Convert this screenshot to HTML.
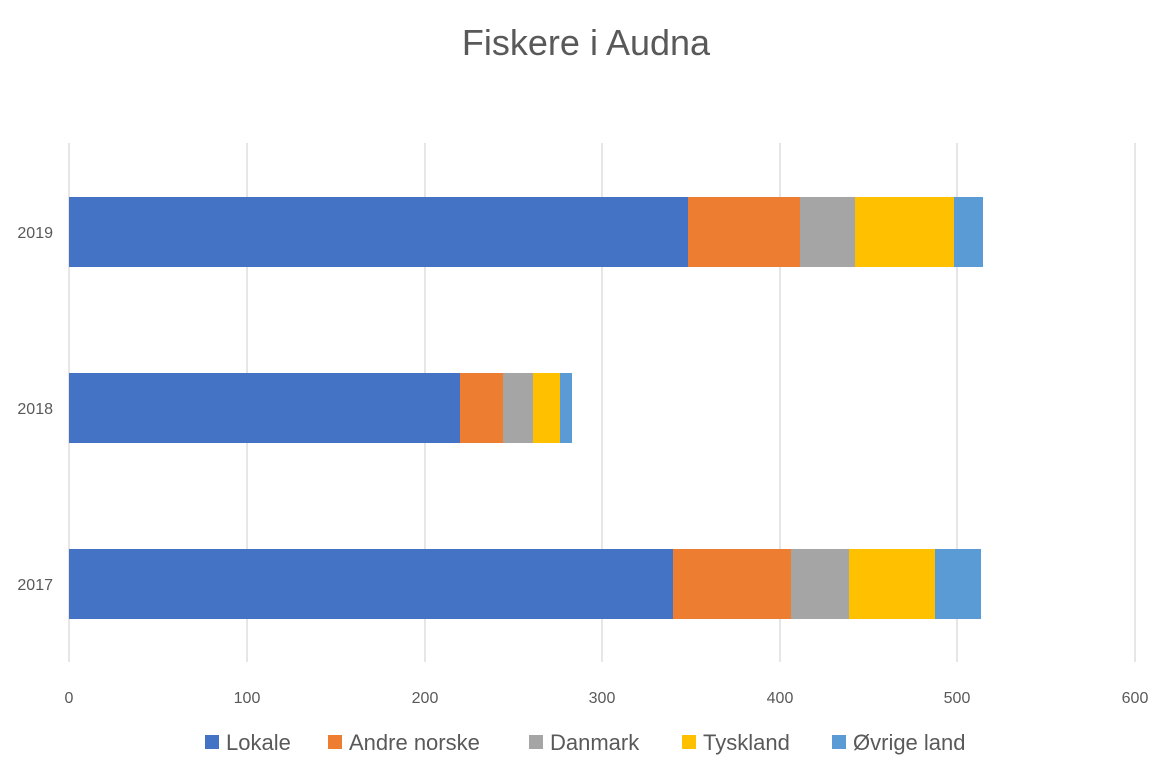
<!DOCTYPE html>
<html><head><meta charset="utf-8"><style>
body{margin:0;background:#fff;}
svg{display:block;font-family:"Liberation Sans",sans-serif;}
</style></head><body>
<svg width="1173" height="778" viewBox="0 0 1173 778">
<rect width="1173" height="778" fill="#fff"/>
<text x="586" y="55" text-anchor="middle" font-size="36" fill="#595959">Fiskere i Audna</text>
<g stroke="#d9d9d9" stroke-width="1.3">
<line x1="69" y1="143" x2="69" y2="662"/>
<line x1="247" y1="143" x2="247" y2="662"/>
<line x1="425" y1="143" x2="425" y2="662"/>
<line x1="602" y1="143" x2="602" y2="662"/>
<line x1="780" y1="143" x2="780" y2="662"/>
<line x1="957" y1="143" x2="957" y2="662"/>
<line x1="1135" y1="143" x2="1135" y2="662"/>
</g>
<g font-size="16" fill="#595959" text-anchor="middle">
<text x="69" y="703">0</text><text x="247" y="703">100</text><text x="425" y="703">200</text>
<text x="602" y="703">300</text><text x="780" y="703">400</text><text x="957" y="703">500</text><text x="1135" y="703">600</text>
</g>
<g font-size="16" fill="#595959" text-anchor="end">
<text x="53" y="238">2019</text><text x="53" y="414">2018</text><text x="53" y="590">2017</text>
</g>
<g>
<rect x="69" y="197" width="619" height="70" fill="#4472C4"/>
<rect x="688" y="197" width="112" height="70" fill="#ED7D31"/>
<rect x="800" y="197" width="55" height="70" fill="#A5A5A5"/>
<rect x="855" y="197" width="99" height="70" fill="#FFC000"/>
<rect x="954" y="197" width="29" height="70" fill="#5B9BD5"/>

<rect x="69" y="373" width="391" height="70" fill="#4472C4"/>
<rect x="460" y="373" width="43" height="70" fill="#ED7D31"/>
<rect x="503" y="373" width="30" height="70" fill="#A5A5A5"/>
<rect x="533" y="373" width="27" height="70" fill="#FFC000"/>
<rect x="560" y="373" width="12" height="70" fill="#5B9BD5"/>

<rect x="69" y="549" width="604" height="70" fill="#4472C4"/>
<rect x="673" y="549" width="118" height="70" fill="#ED7D31"/>
<rect x="791" y="549" width="58" height="70" fill="#A5A5A5"/>
<rect x="849" y="549" width="86" height="70" fill="#FFC000"/>
<rect x="935" y="549" width="46" height="70" fill="#5B9BD5"/>
</g>
<g font-size="22" fill="#595959">
<rect x="205" y="735" width="14" height="14" fill="#4472C4"/><text x="226" y="750">Lokale</text>
<rect x="328" y="735" width="14" height="14" fill="#ED7D31"/><text x="349" y="750">Andre norske</text>
<rect x="529" y="735" width="14" height="14" fill="#A5A5A5"/><text x="550" y="750">Danmark</text>
<rect x="682" y="735" width="14" height="14" fill="#FFC000"/><text x="703" y="750">Tyskland</text>
<rect x="832" y="735" width="14" height="14" fill="#5B9BD5"/><text x="853" y="750">Øvrige land</text>
</g>
</svg>
</body></html>
